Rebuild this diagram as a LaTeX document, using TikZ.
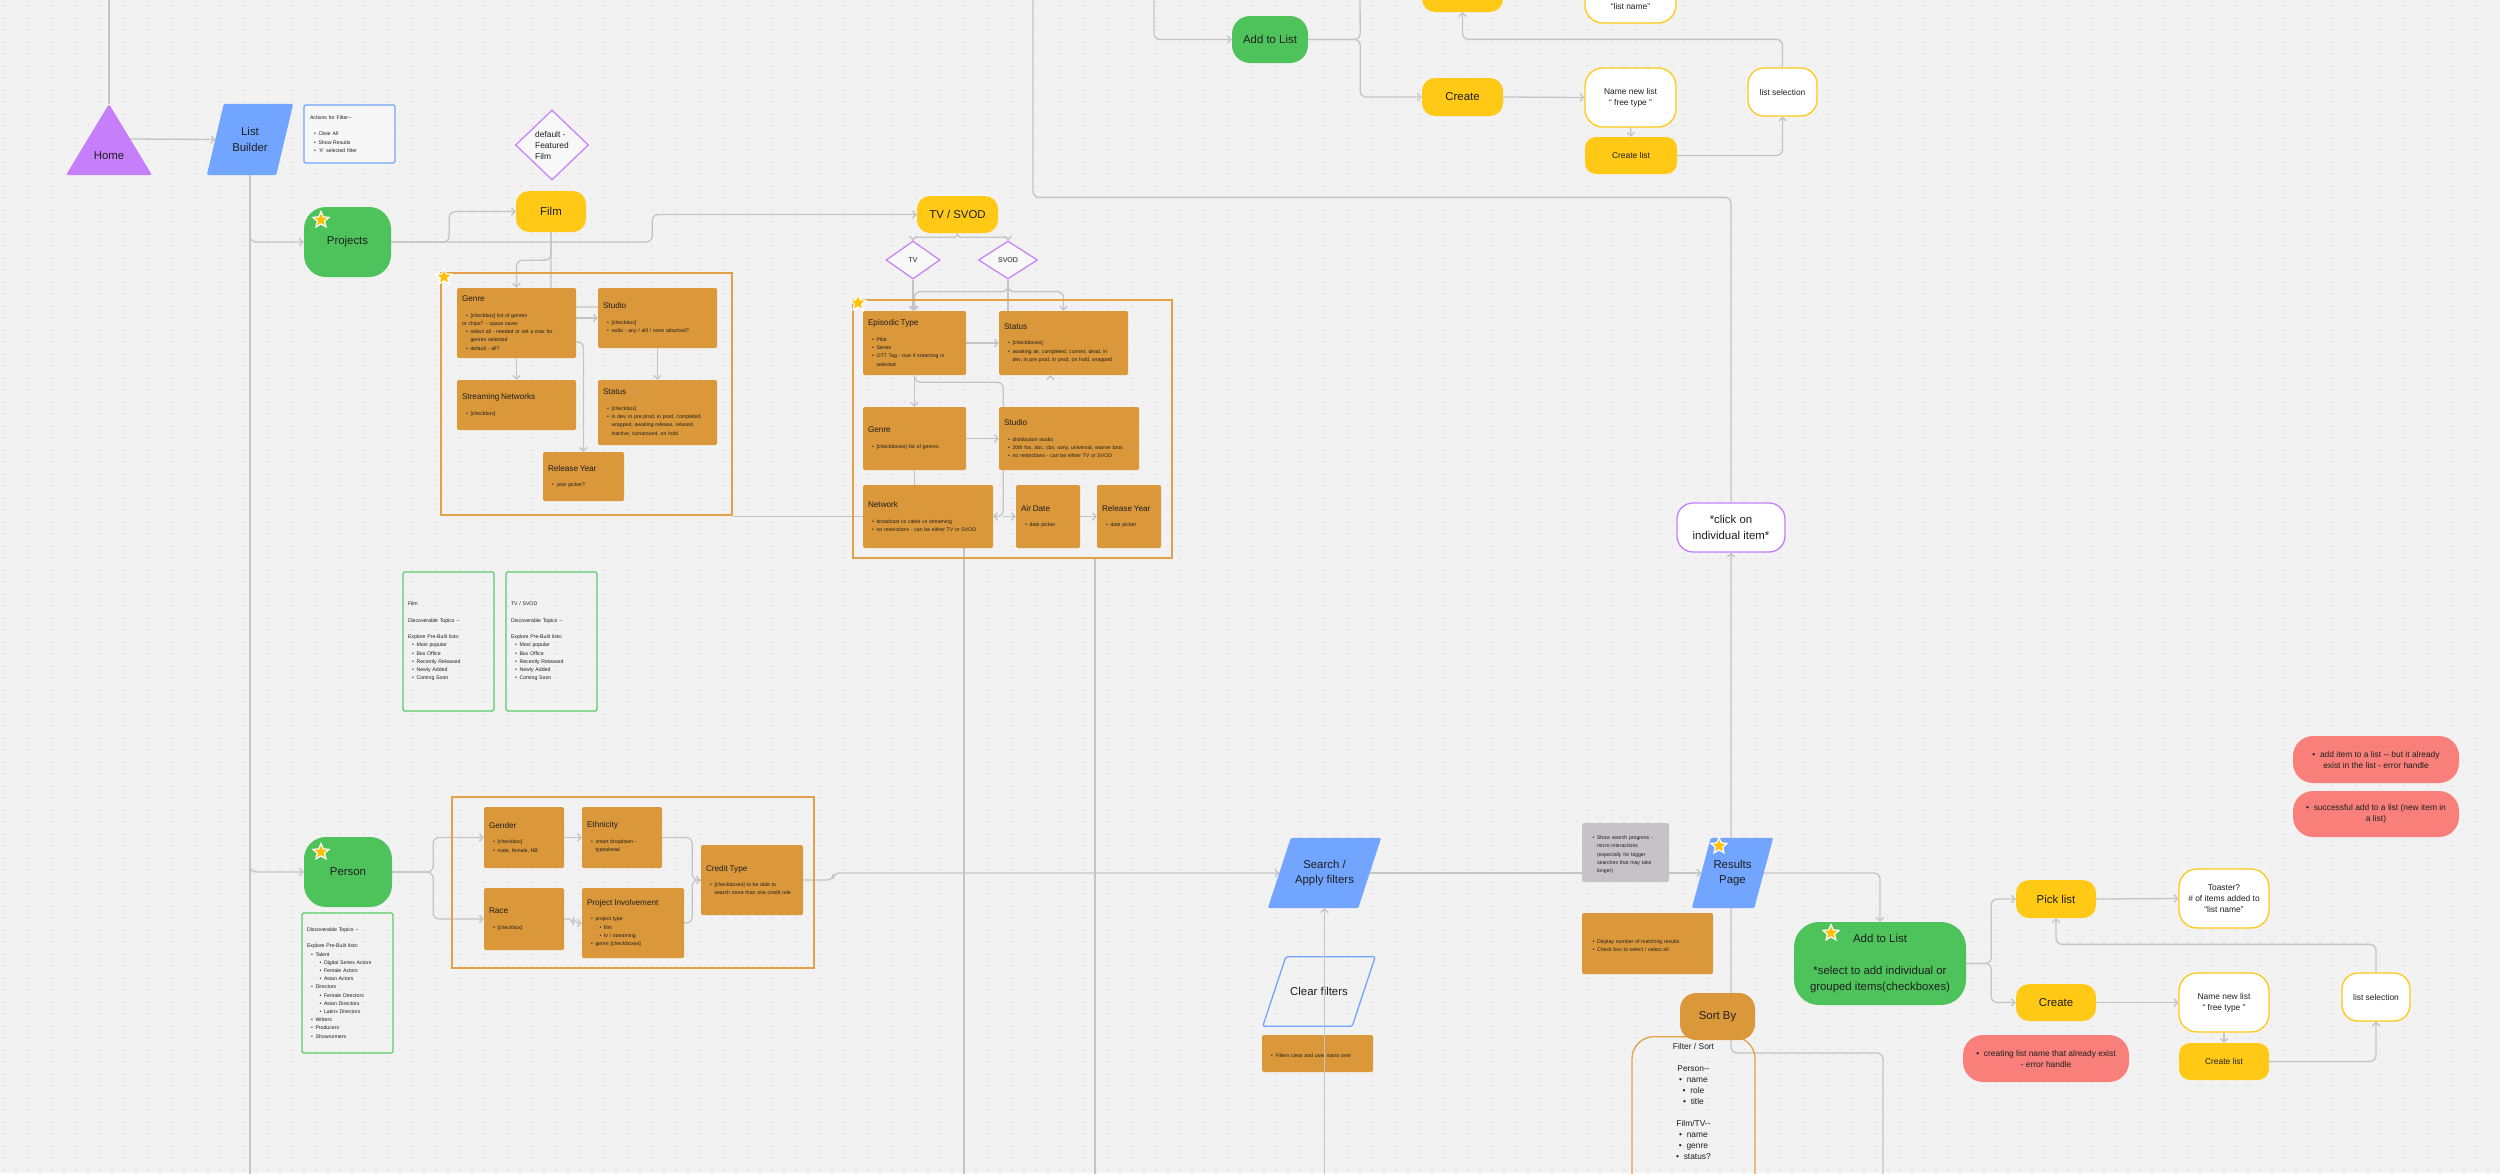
\documentclass[tikz,border=0pt]{standalone}
\usepackage{fontspec}
\setmainfont{Liberation Sans}
\usepackage{enumitem}
\usetikzlibrary{shapes.geometric,arrows.meta,calc}

\definecolor{bgcol}{HTML}{F2F2F2}
\definecolor{dotcol}{HTML}{C6C6C6}
\definecolor{wirecol}{HTML}{C4C4C4}
\definecolor{inkcol}{HTML}{1E1E1E}
\definecolor{purplecol}{HTML}{C67EFA}
\definecolor{bluecol}{HTML}{72A5FF}
\definecolor{greencol}{HTML}{4EC35B}
\definecolor{yellowcol}{HTML}{FFC916}
\definecolor{orangecol}{HTML}{DA983B}
\definecolor{framecol}{HTML}{E3A047}
\definecolor{greylabel}{HTML}{C5C3C5}
\definecolor{salmoncol}{HTML}{F87F7A}
\definecolor{topiccol}{HTML}{5BCB66}
\definecolor{starcol}{HTML}{FFC107}

\newcommand{\fbig}{\fontsize{11.4}{15.7}\selectfont}
\newcommand{\fmid}{\fontsize{8.4}{11}\selectfont}
\newcommand{\fttl}{\fontsize{8.2}{10}\selectfont}
\newcommand{\fsmall}{\fontsize{5.2}{8.2}\selectfont}
\newcommand{\fdia}{\fontsize{7}{8.5}\selectfont}
\newcommand{\boxhead}[1]{{\fttl #1\par}\vspace{7.5pt}}

\setlist[itemize]{label=\textbullet, nosep, leftmargin=8.5pt, labelsep=2.5pt}

\pgfdeclarelayer{canvas}
\pgfdeclarelayer{wires}
\pgfdeclarelayer{slabs}
\pgfsetlayers{canvas,wires,slabs,main}

\tikzset{
  wire/.style={draw=wirecol, line width=1.3pt, rounded corners=6pt},
  arr/.style={wire, -{Straight Barb[length=3.5pt, width=7.5pt]}},
  greenpill/.style={fill=greencol, rounded corners=22pt, font=\fbig, text=inkcol, align=center},
  yellowpill/.style={fill=yellowcol, rounded corners=13pt, font=\fbig, text=inkcol},
  smallpill/.style={fill=yellowcol, rounded corners=11pt, font=\fmid, text=inkcol},
  outlinepill/.style={draw=yellowcol, line width=1.3pt, fill=white, rounded corners=18pt, font=\fmid, text=inkcol, align=center},
  orangepill/.style={fill=orangecol, rounded corners=16pt, font=\fbig, text=inkcol},
  warnnote/.style={fill=salmoncol, rounded corners=20pt, font=\fmid, text=inkcol, align=center},
  clickpill/.style={draw=purplecol, line width=1.3pt, fill=white, rounded corners=16pt, font=\fbig, text=inkcol, align=center},
  paratext/.style={inner sep=0pt, font=\fbig, text=inkcol, align=center},
  paraslab/.style={fill=bluecol, rounded corners=1.5pt},
  flowdiamond/.style={diamond, draw=purplecol, line width=1.2pt, fill=white!50!bgcol, inner sep=0pt, font=\fmid, text=inkcol, align=left},
  filterbox/.style={fill=orangecol, rounded corners=1.5pt, inner xsep=5pt, inner ysep=2pt, font=\fsmall, text=inkcol, align=left},
  greynote/.style={filterbox, fill=greylabel, inner xsep=6.5pt},
  groupframe/.style={draw=framecol, line width=1.3pt, inner sep=0pt},
  topicbox/.style={draw=topiccol, line width=1.3pt, rounded corners=1.5pt, inner xsep=5pt, font=\fsmall, text=inkcol, align=left},
  actionbox/.style={topicbox, draw=bluecol, fill=white!40!bgcol, inner xsep=6pt},
  starmark/.style={star, star points=5, star point ratio=2.2, fill=starcol, draw=white, line width=1.2pt, minimum size=17pt, inner sep=0pt},
  sortframe/.style={draw=framecol, line width=1.3pt, rounded corners=22pt, inner sep=0pt}
}

\begin{document}
\begin{tikzpicture}[x=1pt, y=-1pt]
\useasboundingbox (0,0) rectangle (2500,1173);
\begin{pgfonlayer}{canvas}
\fill[bgcol] (0,0) rectangle (2500,1173);
\foreach \r in {0,...,97}
  \draw[dotcol, line width=1.4pt, line cap=round, dash pattern=on 0pt off 12pt] (4,{6+12*\r}) -- (2500,{6+12*\r});
\end{pgfonlayer}

% entry
\fill[purplecol, rounded corners=2pt] (66,175) -- (109,104) -- (152,175) -- cycle;
\coordinate (homeapex) at (109,104);
\coordinate (homeside) at (130,139);
\node[font=\fbig, text=inkcol] (home) at (109,156) {Home};
\node[paratext, minimum width=86pt, minimum height=71pt] (lb) at (250,139.5) {List\\Builder};
\node[actionbox, text width=79pt, minimum height=58pt] (actions) at (349.5,134) {Actions for Filter-{}-\par\vspace{8.2pt}
  \begin{itemize}\item Clear All\item Show Results\item ‘X’ selected filter\end{itemize}};
\node[flowdiamond, minimum width=73pt, minimum height=70pt] (featured) at (552,145) {default -\\Featured\\Film};

% projects
\node[greenpill, minimum width=87pt, minimum height=70pt] (projects) at (347.5,242) {Projects};
\node[starmark] (projstar) at (321,220) {};
\node[yellowpill, minimum width=70pt, minimum height=41pt] (film) at (551,211.5) {Film};
\node[yellowpill, minimum width=81pt, minimum height=37pt] (tvsvod) at (957.5,214.5) {TV / SVOD};
\node[flowdiamond, font=\fdia, minimum width=54pt, minimum height=38pt] (tvd) at (913,260) {TV};
\node[flowdiamond, font=\fdia, minimum width=59pt, minimum height=38pt] (svodd) at (1008,260) {SVOD};

% film filters
\node[groupframe, minimum width=291pt, minimum height=242pt] (filmgroup) at (586.5,394) {};
\node[starmark] (filmstar) at (444,277) {};
\node[filterbox, text width=109pt, minimum height=70pt] (fgenre) at (516.5,323) {\boxhead{Genre}
  \begin{itemize}\item {[checkbox]} list of genres\end{itemize}
  or chips? - space saver
  \begin{itemize}\item select all - needed or set a max for\newline genres selected\item default - all?\end{itemize}};
\node[filterbox, text width=109pt, minimum height=60pt] (fstudio) at (657.5,318) {\boxhead{Studio}
  \begin{itemize}\item {[checkbox]}\item radio - any / alll / none attached?\end{itemize}};
\node[filterbox, text width=109pt, minimum height=50pt] (fstream) at (516.5,405) {\boxhead{Streaming Networks}
  \begin{itemize}\item {[checkbox]}\end{itemize}};
\node[filterbox, text width=109pt, minimum height=65pt] (fstatus) at (657.5,412.5) {\boxhead{Status}
  \begin{itemize}\item {[checkbox]}\item in dev, in pre prod, in prod, completed,\newline wrapped, awaiting release, relased,\newline inactive, turnaround, on hold\end{itemize}};
\node[filterbox, text width=71pt, minimum height=49pt] (frelease) at (583.5,476.5) {\boxhead{Release Year}
  \begin{itemize}\item year picker?\end{itemize}};

% tv filters
\node[groupframe, minimum width=319pt, minimum height=258pt] (tvgroup) at (1012.5,429) {};
\node[starmark] (tvstar) at (858,303) {};
\node[filterbox, text width=93pt, minimum height=64pt] (episodic) at (914.5,343) {\boxhead{Episodic Type}
  \begin{itemize}\item Pilot\item Series\item OTT Tag - true if sreaming is\newline selected\end{itemize}};
\node[filterbox, text width=119pt, minimum height=64pt] (tvstatus) at (1063.5,343) {\boxhead{Status}
  \begin{itemize}\item {[checkboxes]}\item awaiting air, completed, current, dead, in\newline dev, in pre prod, in prod, on hold, wrapped\end{itemize}};
\node[filterbox, text width=93pt, minimum height=63pt] (tvgenre) at (914.5,438.5) {\boxhead{Genre}
  \begin{itemize}\item {[checkboxes]} list of genres\end{itemize}};
\node[filterbox, text width=130pt, minimum height=63pt] (tvstudio) at (1069,438.5) {\boxhead{Studio}
  \begin{itemize}\item distribution studio\item 20th fox, abc, cbs, sony, universal, warner bros\item no restrictions - can be either TV or SVOD\end{itemize}};
\node[filterbox, text width=120pt, minimum height=63pt] (network) at (928,516.5) {\boxhead{Network}
  \begin{itemize}\item broadcast vs cable vs streaming\item no restrictions - can be either TV or SVOD\end{itemize}};
\node[filterbox, text width=54pt, minimum height=63pt] (airdate) at (1048,516.5) {\boxhead{Air Date}
  \begin{itemize}\item date picker\end{itemize}};
\node[filterbox, text width=54pt, minimum height=63pt] (tvrelease) at (1129,516.5) {\boxhead{Release Year}
  \begin{itemize}\item date picker\end{itemize}};

% topic lists
\node[topicbox, text width=81pt, minimum height=139pt] (filmtopics) at (448.5,641.5) {Film\par\vspace{8.2pt}
  Discoverable Topics -{}-\par\vspace{8.2pt}
  Explore Pre-Built lists:
  \begin{itemize}\item Most popular\item Box Office\item Recently Released\item Newly Added\item Coming Soon\end{itemize}};
\node[topicbox, text width=81pt, minimum height=139pt] (tvtopics) at (551.5,641.5) {TV / SVOD\par\vspace{8.2pt}
  Discoverable Topics -{}-\par\vspace{8.2pt}
  Explore Pre-Built lists:
  \begin{itemize}\item Most popular\item Box Office\item Recently Released\item Newly Added\item Coming Soon\end{itemize}};

% person
\node[greenpill, minimum width=88pt, minimum height=70pt] (person) at (348,872) {Person};
\node[starmark] (personstar) at (321,852) {};
\node[topicbox, text width=81pt, minimum height=140pt] (persontopics) at (347.5,983) {Discoverable Topics -{}-\par\vspace{8.2pt}
  Explore Pre-Built lists:
  \begin{itemize}
  \item Talent\begin{itemize}\item Digital Series Actors\item Female Actors\item Asian Actors\end{itemize}
  \item Directors\begin{itemize}\item Female Directors\item Asian Directors\item Latinx Directors\end{itemize}
  \item Writers\item Producers\item Showrunners
  \end{itemize}};
\node[groupframe, minimum width=362pt, minimum height=171pt] (persongroup) at (633,882.5) {};
\node[filterbox, text width=70pt, minimum height=61pt] (gender) at (524,837.5) {\boxhead{Gender}
  \begin{itemize}\item {[checkbox]}\item male, female, NB\end{itemize}};
\node[filterbox, text width=70pt, minimum height=61pt] (ethnicity) at (622,837.5) {\boxhead{Ethnicity}
  \begin{itemize}\item smart dropdown -\newline typeahead\end{itemize}};
\node[filterbox, text width=70pt, minimum height=62pt] (race) at (524,919) {\boxhead{Race}
  \begin{itemize}\item {[checkbox]}\end{itemize}};
\node[filterbox, text width=92pt, minimum height=70pt] (involvement) at (633,923) {\boxhead{Project Involvement}
  \begin{itemize}\item project type\begin{itemize}\item film\item tv / streaming\end{itemize}\item genre {[checkboxes]}\end{itemize}};
\node[filterbox, text width=92pt, minimum height=70pt] (credit) at (752,880) {\boxhead{Credit Type}
  \begin{itemize}\item {[checkboxes]} to be able to\newline search more than one credit role\end{itemize}};

% search and results
\node[paratext, minimum width=113pt, minimum height=70pt] (search) at (1324.5,873) {Search /\\Apply filters};
\node[greynote, text width=74pt, minimum height=59pt] (progress) at (1625.5,852.5) {\begin{itemize}\item Show search progress -\newline micro interactions\newline (especially for bigger\newline searches that may take\newline longer)\end{itemize}};
\node[paratext, minimum width=81pt, minimum height=70pt] (results) at (1732.5,873) {Results\\Page};
\node[starmark] (resultstar) at (1719,846) {};
\node[filterbox, inner xsep=6.5pt, text width=118pt, minimum height=61pt] (matchnote) at (1647.5,943.5) {\begin{itemize}\item Display number of matching results\item Check box to select / select all\end{itemize}};
\node[paratext, minimum width=112pt, minimum height=69pt] (clear) at (1319,991.5) {Clear filters};
\node[filterbox, text width=101pt, minimum height=37pt] (clearnote) at (1317.5,1053.5) {\begin{itemize}\item Filters clear and user starts over\end{itemize}};
\node[sortframe, anchor=north, minimum width=123pt, minimum height=170pt] (sortbox) at (1693.5,1036) {};
\node[orangepill, minimum width=75pt, minimum height=47pt] (sortby) at (1717.5,1016.5) {Sort By};
\node[anchor=north, inner sep=0pt, font=\fmid, text=inkcol, align=center] (sortlist) at (1693.5,1043) {Filter / Sort\\[11pt]
  Person-{}-\\\textbullet\ \ name\\\textbullet\ \ role\\\textbullet\ \ title\\[11pt]
  Film/TV-{}-\\\textbullet\ \ name\\\textbullet\ \ genre\\\textbullet\ \ status?};
\node[clickpill, minimum width=108pt, minimum height=49pt] (click) at (1731,527.5) {*click on\\individual item*};

% parallelogram bodies
\begin{pgfonlayer}{slabs}
\fill[paraslab] (lb.south west) -- ($(lb.north west)+(17,0)$) -- (lb.north east) -- ($(lb.south east)+(-17,0)$) -- cycle;
\fill[paraslab] (search.south west) -- ($(search.north west)+(23,0)$) -- (search.north east) -- ($(search.south east)+(-23,0)$) -- cycle;
\fill[paraslab] (results.south west) -- ($(results.north west)+(19,0)$) -- (results.north east) -- ($(results.south east)+(-19,0)$) -- cycle;
\draw[bluecol, line width=1.3pt, rounded corners=1.5pt] (clear.south west) -- ($(clear.north west)+(23,0)$) -- (clear.north east) -- ($(clear.south east)+(-23,0)$) -- cycle;
\end{pgfonlayer}

% add to list, lower
\node[greenpill, rounded corners=25pt, minimum width=172pt, minimum height=83pt] (addlist2) at (1880,963.5) {Add to List\\[17pt]*select to add individual or\\grouped items(checkboxes)};
\node[starmark] (addstar) at (1831,933) {};
\node[yellowpill, minimum width=80pt, minimum height=38pt] (pick2) at (2056,899) {Pick list};
\node[yellowpill, minimum width=80pt, minimum height=37pt] (create2) at (2056,1002.5) {Create};
\node[outlinepill, minimum width=90pt, minimum height=59pt] (toaster2) at (2224,898.5) {Toaster?\\\# of items added to\\“list name”};
\node[outlinepill, minimum width=90pt, minimum height=59pt] (name2) at (2224,1002.5) {Name new list\\“ free type ”};
\node[smallpill, minimum width=90pt, minimum height=37pt] (createlist2) at (2224,1061.5) {Create list};
\node[outlinepill, rounded corners=16pt, minimum width=68pt, minimum height=48pt] (listsel2) at (2376,997) {list selection};
\node[warnnote, minimum width=166pt, minimum height=47pt] (dupnote) at (2376,759.5) {\textbullet\ \ add item to a list -{}- but it already\\exist in the list - error handle};
\node[warnnote, minimum width=166pt, minimum height=46pt] (oknote) at (2376,814) {\textbullet\ \ successful add to a list (new item in\\a list)};
\node[warnnote, minimum width=166pt, minimum height=47pt] (namenote) at (2046,1058.5) {\textbullet\ \ creating list name that already exist\\- error handle};

% add to list, upper (cut by the top edge)
\node[greenpill, rounded corners=18pt, minimum width=76pt, minimum height=47pt] (addlist1) at (1270,39.5) {Add to List};
\node[yellowpill, minimum width=81pt, minimum height=39pt] (pick1) at (1462.5,-7.5) {};
\node[outlinepill, minimum width=91pt, minimum height=59pt] (toaster1) at (1630.5,-6.5) {};
\node[font=\fmid, text=inkcol, inner sep=0pt] (toaster1name) at (1630.5,6.5) {“list name”};
\node[yellowpill, minimum width=81pt, minimum height=38pt] (create1) at (1462.5,97) {Create};
\node[outlinepill, minimum width=91pt, minimum height=59pt] (name1) at (1630.5,97.5) {Name new list\\“ free type ”};
\node[smallpill, minimum width=92pt, minimum height=37pt] (createlist1) at (1631,155.5) {Create list};
\node[outlinepill, rounded corners=16pt, minimum width=69pt, minimum height=48pt] (listsel1) at (1782.5,92) {list selection};

\begin{pgfonlayer}{wires}
\coordinate (hometop) at (109,-5);
\draw[wire] (hometop) -- (homeapex);
\draw[arr] (homeside) -- ($(lb.west)+(8.5,0)$);
\coordinate (lbfoot) at (250,1180);
\draw[wire] (lb.south) -- (lbfoot);
\draw[arr] (lb.south) |- (projects.west);
\draw[arr] (lb.south) |- (person.west);
\draw[arr] (projects.east) -- ++(58,0) |- (film.west);
\draw[arr] (projects.east) -- ++(261,0) |- (tvsvod.west);
% film
\draw[wire] (film.south) |- ($(fstudio.west)+(0,-11)$);
\draw[arr] (film.south) -- ++(0,28) -| (fgenre.north);
\draw[arr] (fgenre.east |- fstudio.west) -- (fstudio.west);
\draw[arr] (fgenre.south) -- (fstream.north);
\draw[arr] (fstudio.south) -- (fstatus.north);
\draw[arr] ($(fgenre.east)+(0,19)$) -| (frelease.north);
% tv
\draw[arr, rounded corners=3pt] (tvsvod.south) -- ++(0,4) -| (tvd.north);
\draw[arr, rounded corners=3pt] (tvsvod.south) -- ++(0,4) -| (svodd.north);
\draw[arr] (tvd.south) -- (tvd.south |- episodic.north);
\draw[wire] (svodd.south) -- (svodd.south |- tvstatus.north);
\draw[arr] (svodd.south) -- ++(0,12) -| (episodic.north);
\draw[arr] (svodd.south) -- ++(0,12) -| (tvstatus.north);
\draw[arr] (episodic.east) -- (tvstatus.west);
\draw[arr] ($(tvstatus.south)+(-13,0)$) -- ($(tvstatus.south)+(-13,0)$ |- tvstudio.north);
\draw[arr] (episodic.south) -- (tvgenre.north);
\draw[arr] (tvgenre.east) -- (tvstudio.west);
\draw[wire] (tvgenre.south) -- (network.north -| tvgenre.south);
\draw[arr] (episodic.south) -- ++(0,7) -| ($(network.east)+(10,0)$) -- (network.east);
\draw[arr] ($(network.east)+(10,0)$) -- (airdate.west);
\draw[arr] (airdate.east) -- (tvrelease.west);
\draw[wire] (filmgroup.east |- network.west) -- (network.west);
\coordinate (netfoot) at (964,1180);
\draw[wire] (network.south -| netfoot) -- (netfoot);
\coordinate (tvfoot) at (1095,1180);
\draw[wire] (tvgroup.south -| tvfoot) -- (tvfoot);
% person
\draw[arr] (person.east) -- ++(41,0) |- (gender.west);
\draw[arr] (person.east) -- ++(41,0) |- (race.west);
\draw[arr] (gender.east) -- (ethnicity.west);
\draw[arr] (race.east) -- ++(9,0) |- (involvement.west);
\draw[arr] (ethnicity.east) -- ++(30,0) |- (credit.west);
\draw[wire] (involvement.east) -- ++(8,0) |- (credit.west);
\draw[arr] (credit.east) -- ++(30,0) |- ($(search.west)+(11.5,0)$);
% results
\draw[arr] ($(search.east)+(-11.5,0)$) -- ($(results.west)+(9.5,0)$);
\draw[arr] ($(results.east)+(-9.5,0)$) -| (addlist2.north);
\coordinate (clickfoot) at (1883,1180);
\draw[arr] (clickfoot) -- ++(0,-127) -| (click.south);
\coordinate (clicktop) at (1033,-5);
\draw[wire] (click.north) -- ++(0,-305) -| (clicktop);
% upper list
\coordinate (addtop) at (1154,-5);
\draw[arr] (addtop) |- (addlist1.west);
\draw[arr] (addlist1.east) -- ++(52,0) |- (create1.west);
\coordinate (picktop) at (1360,-5);
\draw[wire] (addlist1.east) -- ++(52,0) -- (picktop);
\draw[arr] (create1.east) -- (name1.west);
\draw[arr] (name1.south) -- (createlist1.north);
\draw[arr] (createlist1.east) -| (listsel1.south);
\draw[arr] (listsel1.north) -- ++(0,-28) -| (pick1.south);
% lower list
\draw[arr] (addlist2.east) -- ++(25,0) |- (pick2.west);
\draw[arr] (addlist2.east) -- ++(25,0) |- (create2.west);
\draw[arr] (pick2.east) -- (toaster2.west);
\draw[arr] (create2.east) -- (name2.west);
\draw[arr] (name2.south) -- (createlist2.north);
\draw[arr] (createlist2.east) -| (listsel2.south);
\draw[arr] (listsel2.north) -- ++(0,-28) -| (pick2.south);
\end{pgfonlayer}

\coordinate (clearfoot) at (1324.5,1180);
\draw[arr] (clearfoot) -- (clearfoot |- search.south);
\end{tikzpicture}
\end{document}
